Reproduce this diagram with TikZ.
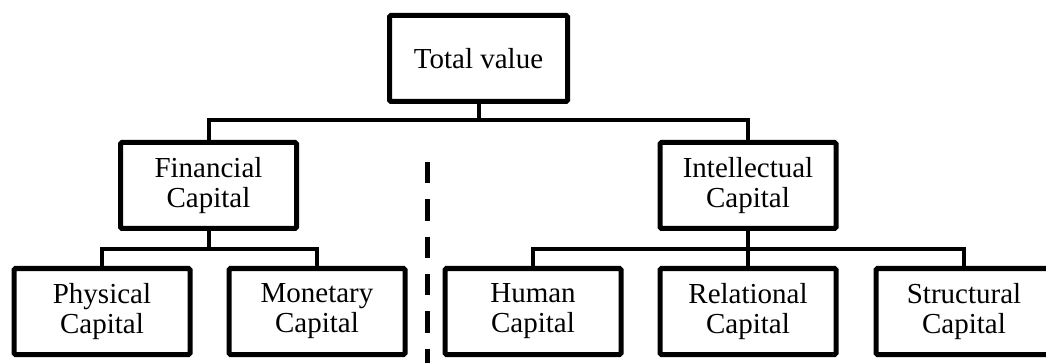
\documentclass[tikz,border=0pt]{standalone}
\usepackage{fontspec}
\setmainfont{Liberation Serif}
\begin{document}
\begin{tikzpicture}[x=1pt,y=-1pt,
  box/.style={draw,line width=5pt,rounded corners=1.5pt,minimum width=176pt,minimum height=86pt,align=center,inner sep=0pt,
    font=\fontsize{29}{30}\selectfont},
  conn/.style={line width=4pt},
  sep/.style={line width=5pt,dash pattern=on 21.5pt off 15.8pt}]
\useasboundingbox (0,0) rectangle (1046,363);
\node[box,minimum width=178pt] (tot) at (478.5,58.5) {Total value};
\node[box] (fin) at (208.5,185.5) {Financial\\Capital};
\node[box] (int) at (748,185.5) {Intellectual\\Capital};
\node[box] (phy) at (102,311.5) {Physical\\Capital};
\node[box] (mon) at (317,311.5) {Monetary\\Capital};
\node[box] (hum) at (533,311.5) {Human\\Capital};
\node[box] (rel) at (748,311.5) {Relational\\Capital};
\node[box] (str) at (964,311.5) {Structural\\Capital};
\coordinate (j1) at (478.5,120);
\coordinate (j2) at (208.5,249);
\coordinate (j3) at (748,249);
\coordinate (d1) at (427.5,162);
\coordinate (d2) at (427.5,370);
\draw[conn] (tot.south) -- (j1);
\draw[conn] (fin.north) |- (j1) -| (int.north);
\draw[conn] (fin.south) -- (j2);
\draw[conn] (phy.north) |- (j2) -| (mon.north);
\draw[conn] (int.south) -- (rel.north);
\draw[conn] (hum.north) |- (j3) -| (str.north);
\draw[sep] (d1) -- (d2);
\end{tikzpicture}
\end{document}
